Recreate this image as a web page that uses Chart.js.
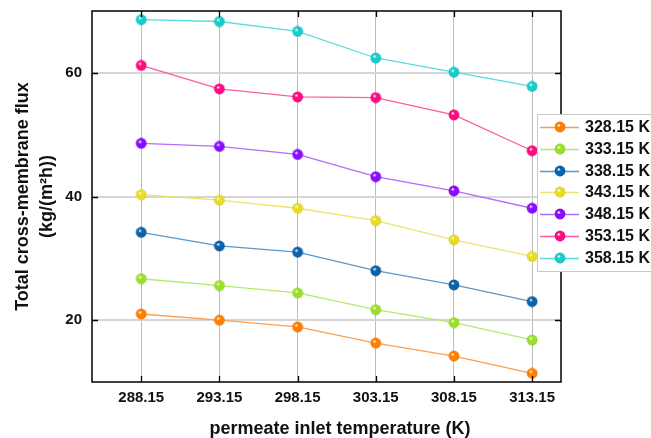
<!DOCTYPE html>
<html lang="en">
<head>
  <meta charset="UTF-8">
  <title>Total cross-membrane flux</title>
  <script src="https://cdn.jsdelivr.net/npm/chart.js"></script>
  <style>
    body {
      margin: 0;
      background: #ffffff;
    }
    canvas {
      display: block;
    }
  </style>
</head>
<body>

  <canvas id="fluxChart" width="651" height="438"></canvas>

  <script>
    // permeate inlet temperature (K)
    const temps = [288.15, 293.15, 298.15, 303.15, 308.15, 313.15];
    const yTicks = [20, 40, 60];

    // flux at each feed temperature, kg/(m2 h)
    const f328 = [21.0, 20.0, 18.9, 16.3, 14.2, 11.4];
    const f333 = [26.7, 25.6, 24.4, 21.7, 19.6, 16.8];
    const f338 = [34.2, 32.0, 31.0, 28.0, 25.7, 23.0];
    const f343 = [40.3, 39.4, 38.1, 36.1, 33.0, 30.3];
    const f348 = [48.6, 48.1, 46.8, 43.2, 40.9, 38.1];
    const f353 = [61.2, 57.4, 56.1, 56.0, 53.2, 47.4];
    const f358 = [68.6, 68.3, 66.7, 62.4, 60.1, 57.8];
    const seriesNames = ['328.15 K', '333.15 K', '338.15 K', '343.15 K', '348.15 K', '353.15 K', '358.15 K'];
    const seriesValues = [f328, f333, f338, f343, f348, f353, f358];

    const pointColors = ['#ff7f00', '#99e02a', '#0a62a8', '#e6dc28', '#8a0cff', '#ff0a80', '#18cccc'];
    const lineColors = ['#ff9d4d', '#b6e86e', '#5a98cc', '#ece46c', '#b26cff', '#ff5aa6', '#5adcdc'];
    const edgeColors = ['#c85a00', '#6ea814', '#04407a', '#b0a410', '#5c00b4', '#b8005a', '#0c9090'];

    Chart.defaults.font.family = "'Liberation Sans', Arial, sans-serif";
    Chart.defaults.color = '#111';

    function sphere(color, edge) {
      const c = document.createElement('canvas');
      c.width = 12; c.height = 12;
      const g = c.getContext('2d');
      const grd = g.createRadialGradient(4.6, 4.2, 0.3, 6, 6, 6);
      grd.addColorStop(0, '#ffffff');
      grd.addColorStop(0.28, color);
      grd.addColorStop(0.8, color);
      grd.addColorStop(1, edge);
      g.fillStyle = grd;
      g.beginPath();
      g.arc(6, 6, 5.4, 0, Math.PI * 2);
      g.fill();
      return c;
    }

    const spheres = pointColors.map((c, i) => sphere(c, edgeColors[i]));

    const datasets = seriesValues.map((vals, i) => ({
      label: seriesNames[i],
      data: vals.map((v, j) => ({ x: temps[j], y: v })),
      borderColor: lineColors[i],
      backgroundColor: pointColors[i],
      borderWidth: 1.3,
      pointStyle: spheres[i],
      pointRadius: 5,
      tension: 0
    }));

    // frame, inward ticks, x title and the legend box
    const decorPlugin = {
      id: 'decor',
      afterDraw(chart) {
        const ctx = chart.ctx;
        const a = chart.chartArea;
        const xs = chart.scales.x, ys = chart.scales.y;
        ctx.save();
        ctx.strokeStyle = '#000';
        ctx.lineWidth = 1.5;
        ctx.strokeRect(a.left, a.top, a.right - a.left, a.bottom - a.top);
        const tl = 6;
        ctx.beginPath();
        temps.forEach(t => {
          const px = Math.round(xs.getPixelForValue(t)) + 0.5;
          ctx.moveTo(px, a.bottom); ctx.lineTo(px, a.bottom - tl);
          ctx.moveTo(px, a.top); ctx.lineTo(px, a.top + tl);
        });
        yTicks.forEach(v => {
          const py = Math.round(ys.getPixelForValue(v)) + 0.5;
          ctx.moveTo(a.left, py); ctx.lineTo(a.left + tl, py);
          ctx.moveTo(a.right, py); ctx.lineTo(a.right - tl, py);
        });
        ctx.lineWidth = 1.3;
        ctx.stroke();

        // x axis title
        ctx.fillStyle = '#111';
        ctx.font = "bold 18px 'Liberation Sans', Arial, sans-serif";
        ctx.textAlign = 'center';
        ctx.textBaseline = 'middle';
        ctx.fillText('permeate inlet temperature (K)', a.left + 248, a.bottom + 47);

        // legend
        const lx = a.right - 24, ly = a.top + 103;
        ctx.fillStyle = '#fff';
        ctx.fillRect(lx, ly, 130, 157);
        ctx.strokeStyle = '#c8c8c8';
        ctx.lineWidth = 1;
        ctx.strokeRect(lx + 0.5, ly + 0.5, 130, 157);
        ctx.font = "bold 16px 'Liberation Sans', Arial, sans-serif";
        ctx.textAlign = 'left';
        chart.data.datasets.forEach((ds, i) => {
          const ry = Math.round(ly + 13 + i * 21.8);
          ctx.strokeStyle = ds.borderColor;
          ctx.lineWidth = 1.5;
          ctx.beginPath();
          ctx.moveTo(lx + 3, ry + 0.5);
          ctx.lineTo(lx + 42, ry + 0.5);
          ctx.stroke();
          ctx.drawImage(ds.pointStyle, lx + 23 - 6, ry - 6);
          ctx.fillStyle = '#111';
          ctx.fillText(ds.label, lx + 48, ry + 1);
        });
        ctx.restore();
      }
    };

    new Chart(document.getElementById('fluxChart'), {
      type: 'line',
      data: { datasets },
      options: {
        responsive: false,
        animation: false,
        devicePixelRatio: 1,
        layout: { padding: { left: 0, top: 11, right: 90, bottom: 0 } },
        plugins: {
          legend: { display: false },
          tooltip: { enabled: false }
        },
        scales: {
          x: {
            type: 'linear',
            min: 285,
            max: 315,
            afterBuildTicks: s => { s.ticks = temps.map(v => ({ value: v })); },
            afterFit: s => { s.height = 56; s.paddingLeft = 0; s.paddingRight = 0; },
            grid: { color: '#bdbdbd', lineWidth: 1, drawTicks: false },
            border: { display: false },
            ticks: {
              padding: 7,
              maxRotation: 0,
              font: { size: 15, weight: 'bold' },
              callback: v => v.toFixed(2)
            }
          },
          y: {
            min: 10,
            max: 70,
            afterBuildTicks: s => { s.ticks = yTicks.map(v => ({ value: v })); },
            afterFit: s => { s.width = 92; s.paddingTop = 0; s.paddingBottom = 0; },
            grid: { color: '#d6d6d6', lineWidth: 2, drawTicks: false },
            border: { display: false },
            ticks: {
              padding: 10,
              font: { size: 15, weight: 'bold' }
            },
            title: {
              display: true,
              text: ['Total cross-membrane flux', '(kg/(m\u00b2h))'],
              font: { size: 18, weight: 'bold', lineHeight: 1.28 },
              padding: { top: 12, bottom: 0 }
            }
          }
        }
      },
      plugins: [decorPlugin]
    });
  </script>

</body>
</html>
